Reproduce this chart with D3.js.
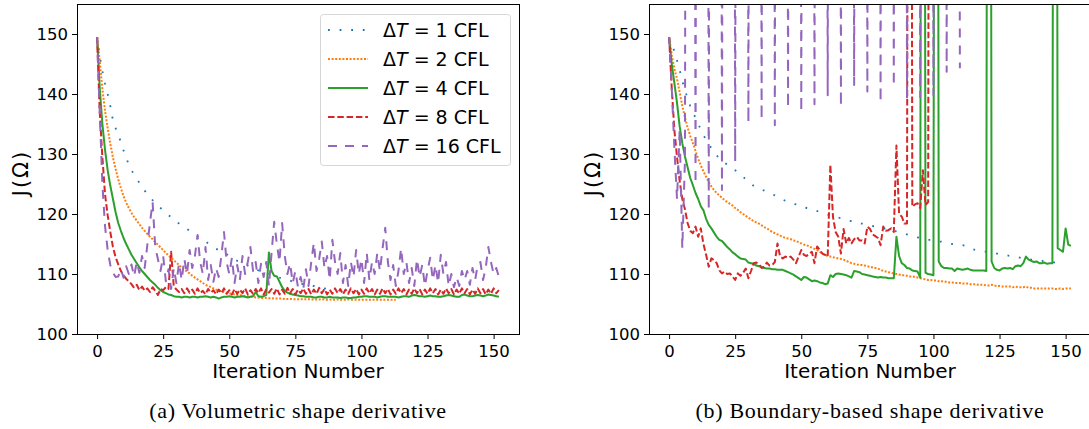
<!DOCTYPE html>
<meta charset="utf-8">
<style>
body { margin: 0; background: #fff; }
svg text { font-family: "DejaVu Sans", sans-serif; fill: #000; }
.caption { font-family: "Liberation Serif", serif; letter-spacing: 0.7px; }
</style>
<body>
<script src="https://cdn.jsdelivr.net/npm/d3@7"></script>
<script>

// ---- data: J(Omega) per iteration ----
var stepLabels = ["1", "2", "4", "8", "16"];
var iterTicks = [0, 25, 50, 75, 100, 125, 150];
var jTicks = [100, 110, 120, 130, 140, 150];

// (a) volumetric shape derivative
var volDT1 = [149.5,146.3,143.8,141.7,140.0,138.0,135.6,134.3,133.2,132.0,
  130.6,129.4,128.2,127.3,126.6,125.9,125.2,124.5,123.9,123.3,
  122.8,122.3,121.9,121.5,121.0,120.6,120.2,119.8,119.5,119.1,
  118.7,118.4,118.1,117.8,117.5,117.2,116.9,116.6,116.3,116.0,
  115.7,115.4,115.1,114.8,114.5,114.2,114.0,113.8,113.5,113.3,
  113.0,112.7,112.4,112.2,112.0,111.8,111.6,111.4,111.2,111.0,
  110.8,110.6,110.5,110.3,110.2,110.0,109.9,109.7,109.6,109.4,
  109.3,109.1,109.0,108.9,108.7,108.6,108.5,108.4,108.3,108.3,
  108.2,108.1,108.0,107.9,107.8,107.7,107.6,107.5,107.4,107.3,
  107.2];
var volDT2 = [149.5,145.5,140.8,137.2,134.3,131.7,129.4,127.5,125.8,124.3,
  123.0,121.9,121.0,120.2,119.5,118.9,118.3,117.7,117.2,116.7,
  116.2,115.8,115.3,114.9,114.4,114.0,113.5,113.1,112.7,112.3,
  111.9,111.5,111.1,110.7,110.4,110.1,109.7,109.4,109.1,108.8,
  108.5,108.2,108.0,107.8,107.6,107.4,107.2,107.1,107.0,106.9,
  106.8,106.7,106.6,106.5,106.5,106.4,106.3,106.3,106.2,106.2,
  106.1,106.1,106.0,106.0,106.0,105.95,105.95,105.9,105.9,105.9,
  105.9,105.85,105.85,105.85,105.8,105.8,105.8,105.8,105.8,105.8,
  105.8,105.75,105.75,105.75,105.75,105.8,105.75,105.7,105.75,105.7,
  105.7,105.75,105.7,105.7,105.7,105.75,105.7,105.7,105.7,105.7,
  105.7,105.7,105.7,105.7,105.7,105.7,105.7,105.7,105.7,105.7,
  105.7,105.7,105.7,105.7];
var volDT4 = [149.5,141.0,135.0,130.7,127.3,124.7,122.5,120.3,118.5,117.2,
  116.0,115.0,114.1,113.2,112.5,111.8,111.1,110.5,110.0,109.5,
  109.0,108.6,108.2,107.7,107.3,107.0,106.8,106.6,106.5,106.3,
  106.2,106.2,106.1,106.2,106.2,106.1,106.2,106.2,106.1,106.2,
  106.2,106.3,106.2,106.1,106.2,106.1,105.9,106.1,106.2,106.2,
  106.3,106.2,106.1,106.2,106.2,106.3,106.2,106.1,106.2,106.3,
  107.0,106.3,106.2,106.3,106.5,113.6,110.5,109.7,109.6,108.7,
  107.8,107.2,106.9,106.7,106.6,106.5,106.4,106.3,106.3,106.2,
  106.2,106.2,106.1,106.1,106.2,106.2,106.1,106.1,106.2,106.1,
  106.1,106.1,106.0,106.1,106.1,106.0,106.0,106.1,106.1,106.2,
  106.2,106.3,106.3,106.2,106.2,106.2,106.1,106.2,106.3,106.3,
  106.2,106.2,106.2,106.2,106.1,106.2,106.3,106.3,106.2,106.4,
  106.5,106.4,106.3,106.3,106.2,106.3,106.4,106.3,106.3,106.2,
  106.2,106.3,106.4,106.5,106.4,106.3,106.2,106.2,106.5,106.6,
  106.4,106.3,106.3,106.4,106.5,106.4,106.3,106.4,106.6,106.5,
  106.4,106.3,106.2];
var volDT8 = [149.5,137.0,129.5,123.3,119.8,117.0,114.5,112.8,111.6,110.5,
  109.8,109.2,108.8,108.3,107.7,108.2,107.3,107.9,107.2,107.6,
  107.0,107.8,107.2,106.5,107.5,107.3,107.8,107.5,113.7,108.0,
  107.4,107.0,107.5,106.8,107.6,106.9,107.4,106.7,107.6,106.8,
  107.2,106.6,107.5,106.9,107.3,106.6,107.4,106.8,107.6,106.7,
  107.3,106.6,107.5,106.7,107.4,106.8,107.6,106.6,107.3,106.7,
  107.5,106.8,107.6,106.6,107.4,106.9,107.5,106.7,107.6,106.6,
  107.4,106.7,107.7,106.8,107.5,106.6,107.4,106.8,107.6,106.7,
  107.5,106.6,107.4,106.7,107.7,106.8,107.5,106.6,107.4,106.7,
  107.6,106.8,107.5,106.6,107.4,106.7,107.6,106.8,107.5,106.6,
  107.4,106.7,107.6,106.8,107.5,106.6,107.4,106.7,107.6,106.8,
  107.5,106.6,107.4,106.7,107.6,106.8,107.5,106.6,107.4,106.7,
  107.6,106.8,107.5,106.6,107.4,106.7,107.6,106.8,107.5,106.6,
  107.4,106.7,107.6,106.8,107.5,106.6,107.4,106.7,107.6,106.8,
  107.5,106.6,107.4,106.7,107.6,106.8,107.5,106.6,107.4,106.7,
  107.6,106.8,107.3];
var volDT16 = [149.5,137.0,125.0,118.0,114.0,111.5,110.2,109.5,109.6,110.8,
  109.4,111.3,110.0,111.6,109.6,112.0,110.2,113.0,111.0,114.8,
  118.5,122.0,114.5,112.5,110.5,113.0,108.8,110.8,107.5,111.0,
  108.5,111.8,109.0,112.5,110.0,114.0,111.0,113.0,116.5,112.0,
  110.0,114.5,109.0,111.5,108.7,111.0,109.5,113.0,117.0,112.0,
  110.0,112.7,108.5,111.5,109.0,113.0,110.0,112.0,114.5,110.5,
  112.0,108.5,111.7,109.5,112.0,108.0,113.5,118.7,115.0,112.0,
  118.5,113.0,110.0,111.8,108.5,110.5,107.8,109.5,107.5,110.8,
  108.0,112.0,115.2,110.5,112.5,115.4,111.0,113.0,109.0,115.7,
  112.0,110.0,113.5,108.5,111.5,108.0,112.0,109.5,114.0,110.0,
  112.5,108.5,113.5,109.0,112.0,110.0,113.5,110.5,114.3,117.7,
  112.0,109.0,111.5,108.0,110.5,114.3,110.0,112.0,108.5,111.0,
  108.0,112.5,109.5,111.5,108.0,110.5,112.7,109.0,111.5,108.5,
  113.2,110.0,112.0,108.0,110.0,107.8,109.5,108.0,110.5,109.0,
  110.5,108.2,111.0,109.0,111.5,112.0,109.0,111.0,114.5,112.0,
  110.0,111.0,109.5];

// (b) boundary-based shape derivative (400 = off the top of the axes)
var bndDT1 = [149.3,148.3,147.1,145.6,144.0,142.2,140.6,139.3,138.0,137.0,
  136.0,135.0,134.1,133.2,132.3,131.6,131.0,130.5,129.8,129.2,
  128.8,128.5,128.3,128.0,127.6,127.3,127.0,126.6,126.2,125.8,
  125.4,125.0,124.7,124.5,124.3,124.1,123.9,123.7,123.5,123.3,
  123.1,122.9,122.6,122.4,122.2,122.0,121.9,121.7,121.6,121.4,
  121.3,121.1,121.0,120.9,120.7,120.6,120.5,120.3,120.2,120.0,
  119.9,119.8,119.7,119.6,119.4,119.3,119.2,119.0,118.9,118.8,
  118.6,118.5,118.4,118.4,118.3,118.2,118.1,118.0,117.9,117.8,
  117.7,117.6,117.5,117.4,117.3,117.2,117.1,117.0,116.9,116.7,
  116.6,116.5,116.3,116.2,116.1,116.0,115.9,115.8,115.7,115.7,
  115.6,115.5,115.4,115.4,115.3,115.2,115.1,115.0,114.9,114.9,
  114.8,114.8,114.7,114.5,114.3,114.1,114.0,113.9,113.8,113.8,
  113.7,113.6,113.6,113.5,113.4,113.4,113.3,113.2,113.1,113.0,
  113.0,112.9,112.8,112.7,112.6,112.6,112.5,112.4,112.4,112.3,
  112.2,112.2,112.1,112.1,112.0,112.0,111.9,111.9,111.8,111.8];
var bndDT2 = [149.5,146.5,144.2,142.5,140.3,138.0,136.1,134.4,133.0,131.8,
  130.5,129.2,128.1,127.1,126.2,125.3,124.6,124.0,123.5,123.1,
  122.7,122.3,122.0,121.7,121.4,121.0,120.7,120.3,120.0,119.7,
  119.4,119.1,118.8,118.6,118.4,118.1,117.8,117.6,117.3,117.0,
  116.8,116.6,116.4,116.2,116.0,115.9,115.8,115.6,115.5,115.3,
  115.1,114.9,114.8,114.6,114.4,114.2,114.0,113.7,113.4,113.2,
  113.0,112.9,112.8,112.7,112.6,112.5,112.4,112.2,112.0,111.8,
  111.7,111.6,111.5,111.5,111.4,111.3,111.2,111.1,111.0,110.9,
  110.7,110.5,110.4,110.3,110.2,110.1,110.0,109.9,109.8,109.8,
  109.7,109.6,109.6,109.5,109.4,109.3,109.2,109.1,109.0,109.0,
  108.9,108.9,108.8,108.8,108.7,108.7,108.6,108.6,108.5,108.5,
  108.5,108.4,108.4,108.4,108.3,108.3,108.3,108.2,108.2,108.2,
  108.1,108.1,108.2,108.1,108.0,108.0,107.9,107.9,107.9,107.9,
  107.8,107.9,107.8,107.8,107.8,107.9,107.7,107.7,107.6,107.6,
  107.6,107.6,107.6,107.6,107.6,107.6,107.5,107.5,107.6,107.5,
  107.6,107.6,107.6];
var bndDT4 = [149.5,145.0,141.8,138.5,134.6,131.8,129.6,127.8,126.0,124.8,
  123.5,122.5,121.3,120.6,119.2,118.2,117.6,116.9,116.2,115.7,
  115.5,115.0,114.5,114.1,113.6,113.3,112.9,112.6,112.5,112.4,
  111.9,111.8,111.7,111.4,111.3,111.2,111.0,110.9,110.9,110.8,
  110.8,110.7,110.7,110.7,110.5,110.3,110.1,109.9,109.6,109.3,
  109.0,109.5,109.4,109.1,108.8,108.9,108.8,108.6,108.5,108.3,
  108.4,109.8,109.5,110.0,110.1,110.0,109.9,109.8,109.6,109.4,
  110.5,110.4,110.3,110.0,109.9,109.8,109.7,109.6,109.5,109.4,
  109.5,109.4,109.4,109.3,109.3,109.3,116.2,113.0,111.8,111.5,
  111.0,110.9,110.6,110.5,110.4,109.4,400,110.2,110.0,109.9,
  109.8,400,112.1,111.3,111.0,111.0,110.9,110.9,110.5,110.9,
  110.8,110.7,110.8,110.9,110.7,110.6,110.6,110.6,110.6,110.6,
  110.5,400,112.1,111.0,110.7,110.6,110.9,111.0,110.9,111.0,
  110.8,111.3,111.4,111.3,111.8,112.9,112.4,112.2,112.0,112.1,
  111.8,111.8,111.9,111.7,111.8,111.8,400,114.3,114.0,113.7,
  117.6,114.9,114.7];
var bndDT8 = [149.5,141.0,134.0,129.5,125.5,122.5,120.8,118.5,117.2,116.8,
  117.9,116.2,117.6,115.0,113.2,111.2,112.6,112.3,111.8,110.6,
  110.1,110.4,110.0,110.1,109.6,109.0,110.1,109.7,110.2,110.9,
  109.3,110.5,111.8,111.9,111.6,111.0,111.2,111.9,111.4,111.5,
  112.0,115.1,112.9,112.6,112.9,112.7,112.9,112.4,111.8,112.9,
  114.0,113.2,113.0,113.4,113.7,111.8,114.6,114.0,113.4,113.2,
  112.9,128.2,119.5,117.0,116.2,113.4,117.5,115.1,116.0,115.1,
  115.8,116.2,115.6,115.6,115.1,117.9,117.5,116.6,116.3,116.0,
  114.8,117.9,117.2,117.3,117.6,117.0,131.4,120.0,119.6,118.4,
  118.4,400,121.2,121.6,121.8,121.0,127.3,121.5,122.0,400];
var bndDT16 = [149.5,141.0,131.0,122.5,134.0,114.3,129.0,400,400,400,
  125.0,400,400,400,400,120.7,400,400,400,400,
  124.0,400,400,400,400,128.7,400,400,400,400,
  135.2,400,400,400,400,135.7,400,400,400,400,
  134.8,400,400,400,400,137.7,400,400,400,400,
  137.0,400,400,400,400,138.3,400,400,400,400,
  139.8,400,400,400,400,137.9,400,400,400,400,
  141.5,400,400,400,400,140.4,400,400,400,400,
  138.6,400,400,400,400,141.3,400,400,400,400,
  139.0,400,400,400,400,139.5,400,400,400,400,
  139.8,400,400,400,400,143.7,400,400,400,400,
  144.3];

// ---- styling ----
var colors = ["#1f77b4", "#ff7f0e", "#2ca02c", "#d62728", "#9467bd"];
var dashes = ["1.8,9.8", "2,1.6", null, "6.5,2.8", "9,8"];
var widths = [1.8, 2, 2, 2, 2];

var W = 1089, H = 429;
var plotTop = 4, plotBottom = 334;

var svg = d3.select("body").append("svg")
  .attr("width", W)
  .attr("height", H);

var y = d3.scaleLinear().domain([100, 155]).range([plotBottom, plotTop]);

var panels = [
  {id: "a", left: 77, right: 519, series: [volDT1, volDT2, volDT4, volDT8, volDT16],
   caption: "(a) Volumetric shape derivative", legend: true},
  {id: "b", left: 649, right: 1091, series: [bndDT1, bndDT2, bndDT4, bndDT8, bndDT16],
   caption: "(b) Boundary-based shape derivative", legend: false}
];

panels.forEach(function(p) {
  var x = d3.scaleLinear().domain([-7.6, 159.6]).range([p.left, p.right]);
  var g = svg.append("g");

  svg.append("clipPath").attr("id", "clip-" + p.id)
    .append("rect")
    .attr("x", p.left).attr("y", plotTop)
    .attr("width", p.right - p.left).attr("height", plotBottom - plotTop);

  var line = d3.line()
    .x(function(d, i) { return x(i); })
    .y(function(d) { return y(d); });

  var lines = g.append("g").attr("clip-path", "url(#clip-" + p.id + ")");
  p.series.forEach(function(s, k) {
    lines.append("path")
      .datum(s)
      .attr("d", line)
      .attr("fill", "none")
      .attr("stroke", colors[k])
      .attr("stroke-width", widths[k])
      .attr("stroke-dasharray", dashes[k])
      .attr("stroke-linejoin", "round");
  });

  // axes
  var xAxis = g.append("g")
    .attr("transform", "translate(0," + plotBottom + ")")
    .call(d3.axisBottom(x).tickValues(iterTicks).tickSize(5).tickPadding(6));
  var yAxis = g.append("g")
    .attr("transform", "translate(" + p.left + ",0)")
    .call(d3.axisLeft(y).tickValues(jTicks).tickSize(5).tickPadding(4));
  [xAxis, yAxis].forEach(function(a) {
    a.select(".domain").remove();
    a.attr("font-family", null).attr("font-size", "16.5px");
    a.selectAll("line").attr("stroke", "#000").attr("stroke-width", 1);
  });

  g.append("rect")
    .attr("x", p.left + 0.5).attr("y", plotTop + 0.5)
    .attr("width", p.right - p.left).attr("height", plotBottom - plotTop)
    .attr("fill", "none")
    .attr("stroke", "#000")
    .attr("stroke-width", 1);

  var cx = (p.left + p.right) / 2;
  g.append("text")
    .attr("x", cx).attr("y", 378)
    .attr("text-anchor", "middle")
    .style("font-size", "20px")
    .text("Iteration Number");

  g.append("text")
    .attr("transform", "translate(" + (p.left - 49) + "," + ((plotTop + plotBottom) / 2 + 4) + ") rotate(-90)")
    .attr("text-anchor", "middle")
    .style("font-size", "21px")
    .style("letter-spacing", "2px")
    .text("J(Ω)");

  g.append("text")
    .attr("class", "caption")
    .attr("x", cx).attr("y", 418)
    .attr("text-anchor", "middle")
    .style("font-size", "22px")
    .text(p.caption);

  if (p.legend) {
    var lg = g.append("g");
    lg.append("rect")
      .attr("x", 320.5).attr("y", 14.5)
      .attr("width", 190).attr("height", 151)
      .attr("rx", 3)
      .attr("fill", "#fff").attr("fill-opacity", 0.8)
      .attr("stroke", "#d6d6d6");
    stepLabels.forEach(function(lab, k) {
      var ly = 30 + k * 29;
      lg.append("line")
        .attr("x1", 328).attr("x2", 368)
        .attr("y1", ly).attr("y2", ly)
        .attr("stroke", colors[k])
        .attr("stroke-width", widths[k])
        .attr("stroke-dasharray", dashes[k]);
      var t = lg.append("text")
        .attr("x", 383).attr("y", ly + 7)
        .style("font-size", "19px");
      t.append("tspan").text("Δ");
      t.append("tspan").style("font-style", "italic").text("T");
      t.append("tspan").text(" = " + lab + " CFL");
    });
  }
});
</script>
